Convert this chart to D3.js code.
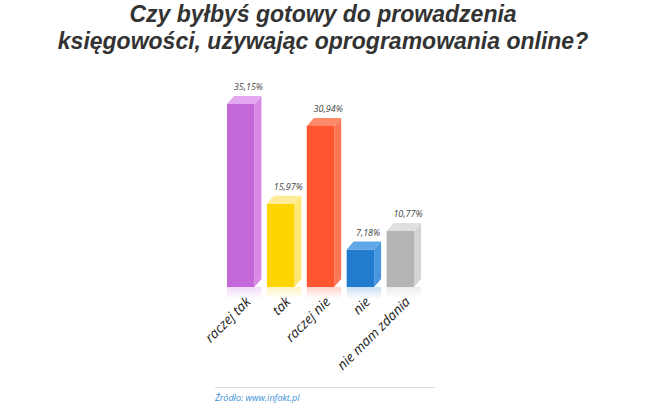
<!DOCTYPE html>
<html>
<head>
<meta charset="utf-8">
<script src="https://cdn.jsdelivr.net/npm/d3@7"></script>
<style>
  body { margin: 0; background: #fff; }
  text { font-family: "Open Sans", "Noto Sans", sans-serif; }
</style>
</head>
<body>
<div id="chart"></div>
<script>
// data
const categories = ["raczej tak", "tak", "raczej nie", "nie", "nie mam zdania"];
const values = [35.15, 15.97, 30.94, 7.18, 10.77];
const valueLabels = ["35,15%", "15,97%", "30,94%", "7,18%", "10,77%"];
const titleLines = ["Czy byłbyś gotowy do prowadzenia", "księgowości, używając oprogramowania online?"];
const source = "Źródło: www.infakt.pl";

// colours per bar: front, side, top
const fronts = ["#c467d8", "#ffd500", "#ff5530", "#217bcf", "#b5b5b5"];
const sides = ["#d98ae9", "#ffe773", "#ff7754", "#4b97de", "#d3d3d3"];
const tops = ["#e4a8f1", "#ffec99", "#ff8a6a", "#60a7e8", "#e0e0e0"];

var width = 650, height = 410;
var baseY = 287, topY = 104;
var depthX = 7, depthY = 8;

var svg = d3.select("#chart").append("svg")
  .attr("width", width)
  .attr("height", height);

// title
svg.append("g").selectAll("text")
  .data(titleLines)
  .enter().append("text")
  .attr("x", 323)
  .attr("y", (d, i) => 22 + i * 27)
  .attr("text-anchor", "middle")
  .style("font-family", "'Liberation Sans', Arial, sans-serif")
  .style("font-size", "23px")
  .style("font-weight", "bold")
  .style("font-style", "italic")
  .style("fill", "#333")
  .text(d => d);

// scales
var x = d3.scaleBand()
  .domain(categories)
  .range([227, 414])
  .paddingInner(0.3125)
  .paddingOuter(0);

var y = d3.scaleLinear()
  .domain([0, 35.15])
  .range([baseY, topY]);

var data = categories.map((c, i) => ({ cat: c, v: values[i], label: valueLabels[i], i: i }));

// reflection gradients
var defs = svg.append("defs");
data.forEach(d => {
  var g = defs.append("linearGradient")
    .attr("id", "refl" + d.i)
    .attr("x1", 0).attr("y1", 0).attr("x2", 0).attr("y2", 1);
  g.append("stop").attr("offset", "0%").attr("stop-color", fronts[d.i]).attr("stop-opacity", 0.25);
  g.append("stop").attr("offset", "100%").attr("stop-color", fronts[d.i]).attr("stop-opacity", 0);
});

var bars = svg.append("g").selectAll("g")
  .data(data)
  .enter().append("g");

// reflection
bars.append("rect")
  .attr("x", d => x(d.cat))
  .attr("y", baseY)
  .attr("width", x.bandwidth() + depthX)
  .attr("height", 12)
  .style("fill", d => "url(#refl" + d.i + ")");

// side face
bars.append("path")
  .attr("d", d => {
    var x1 = x(d.cat) + x.bandwidth(), t = y(d.v), b = y(0);
    return "M" + x1 + "," + t + "L" + (x1 + depthX) + "," + (t - depthY) +
      "L" + (x1 + depthX) + "," + (b - depthY) + "L" + x1 + "," + b + "Z";
  })
  .style("fill", d => sides[d.i]);

// top face
bars.append("path")
  .attr("d", d => {
    var x0 = x(d.cat), x1 = x0 + x.bandwidth(), t = y(d.v);
    return "M" + x0 + "," + t + "L" + (x0 + depthX) + "," + (t - depthY) +
      "L" + (x1 + depthX) + "," + (t - depthY) + "L" + x1 + "," + t + "Z";
  })
  .style("fill", d => tops[d.i]);

// front face
bars.append("rect")
  .attr("x", d => x(d.cat))
  .attr("y", d => y(d.v))
  .attr("width", x.bandwidth())
  .attr("height", d => y(0) - y(d.v))
  .style("fill", d => fronts[d.i]);

// value labels
bars.append("text")
  .attr("x", d => x(d.cat) + x.bandwidth() - 6)
  .attr("y", d => y(d.v) - depthY - 6)
  .attr("text-anchor", "middle")
  .style("font-size", "9px")
  .style("font-style", "italic")
  .style("fill", "#444")
  .text(d => d.label);

// category labels, rotated
svg.append("g").selectAll("text")
  .data(categories)
  .enter().append("text")
  .attr("transform", d => "translate(" + (x(d) + x.bandwidth() / 2 + 4) + "," + (baseY + 9) + ") rotate(-45)")
  .attr("text-anchor", "end")
  .attr("dy", "0.7em")
  .style("font-size", "13.5px")
  .style("font-style", "italic")
  .style("fill", "#222")
  .text(d => d);

// source line
svg.append("line")
  .attr("x1", 215).attr("x2", 435)
  .attr("y1", 387.5).attr("y2", 387.5)
  .style("stroke", "#ddd")
  .style("stroke-width", 1);

svg.append("text")
  .attr("x", 215)
  .attr("y", 401)
  .style("font-size", "9px")
  .style("font-style", "italic")
  .style("fill", "#3a8fd6")
  .text(source);
</script>
</body>
</html>
